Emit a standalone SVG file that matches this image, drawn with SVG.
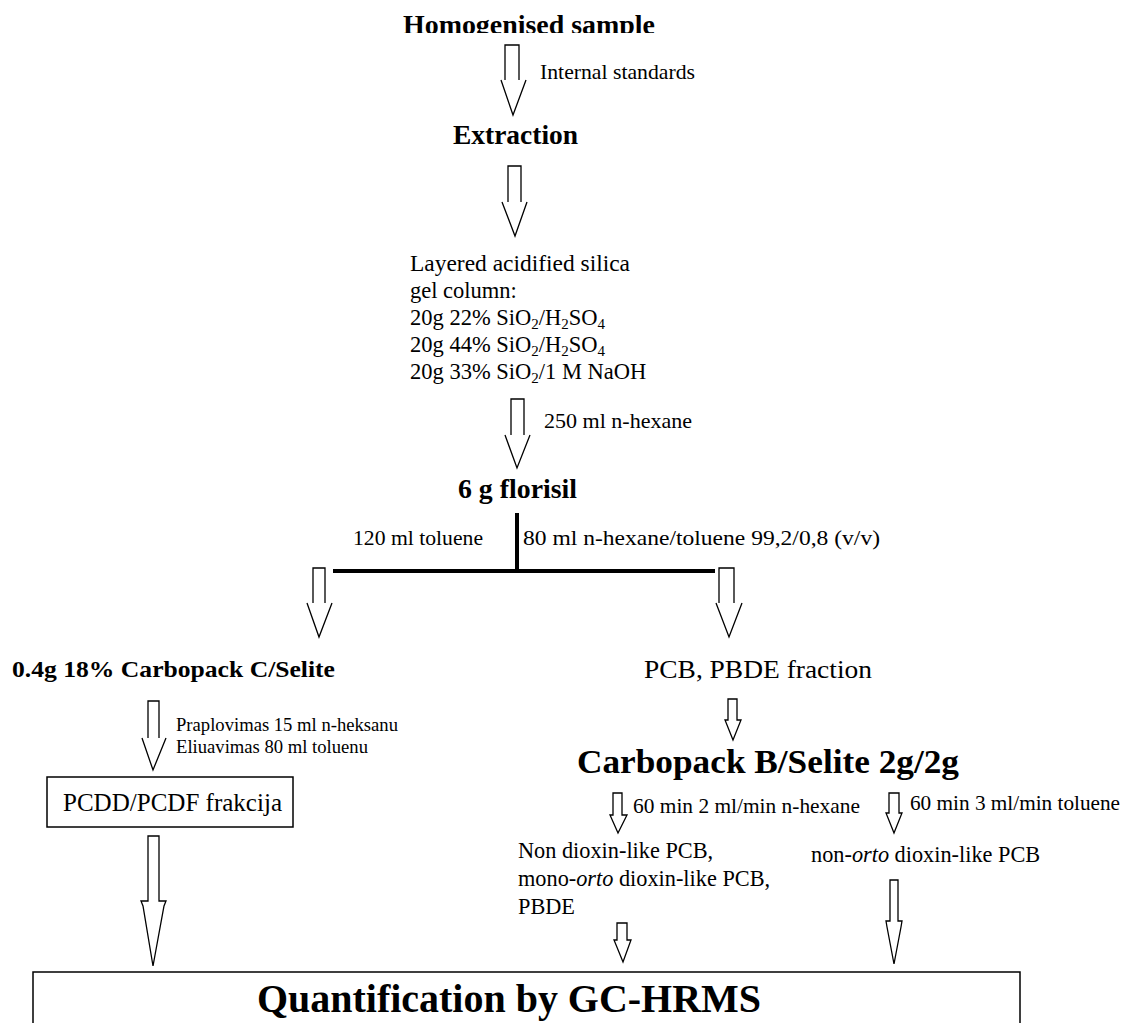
<svg xmlns="http://www.w3.org/2000/svg" width="1123" height="1023" viewBox="0 0 1123 1023">
<defs>
<style>
.t{font-family:"Liberation Serif","Times New Roman",serif;fill:#000}
.b{font-weight:bold}
.sub{font-size:15px}
.ar{fill:none;stroke:#000;stroke-width:1.3}
.arf{fill:#fff;stroke:#000;stroke-width:1.3;stroke-linejoin:miter}
.box{fill:#fff;stroke:#000;stroke-width:1.5}
.bar{stroke:#000;stroke-width:4;fill:none}
</style>
<clipPath id="topclip"><rect x="0" y="0" width="1123" height="33"/></clipPath>
</defs>
<rect width="1123" height="1023" fill="#fff"/>

<g id="connectors">
<path class="ar" d="M505,80 V45 H519 V80 M501,80 L513,115 L526,80"/>
<path class="ar" d="M508,202 V166 H521 V202 M502,202 L515,236 L527,202"/>
<path class="ar" d="M511,435 V399 H524 V435 M505,435 L517,468 L530,435"/>
<path class="bar" d="M517,513 V571 M333,571 H715"/>
<path class="ar" d="M313,603 V568 H325 V603 M307,603 L319,637 L332,603"/>
<path class="ar" d="M719,603 V568 H734 V603 M716,603 L729,637 L742,603"/>
<path class="ar" d="M148,738 V701 H159 V738 M142,738 L153,770 L166,738"/>
<polygon class="arf" points="728,699 737,699 737,720 741,720 733,740 725,720 728,720"/>
<polygon class="arf" points="613,793 622,793 622,815 627,815 618,833 610,815 613,815"/>
<polygon class="arf" points="889,793 899,793 899,813 902,813 894,833 886,813 889,813"/>
<polygon class="arf" points="617,923 627,923 627,940 631,940 623,962 614,940 617,940"/>
<polygon class="arf" points="148,836 159,836 159,901 166,901 164,906 153,966 143,906 141,901 148,901"/>
<polygon class="arf" points="890,880 898,880 898,921 902,921 901,927 894,964 887,927 886,921 890,921"/>
</g>

<g id="homogenised" clip-path="url(#topclip)">
<text class="t b" x="403" y="34" font-size="27" textLength="252" lengthAdjust="spacingAndGlyphs">Homogenised sample</text>
</g>
<g id="internal-standards">
<text class="t" x="540" y="79" font-size="21.5" textLength="155" lengthAdjust="spacingAndGlyphs">Internal standards</text>
</g>
<g id="extraction">
<text class="t b" x="453" y="144" font-size="27" textLength="125" lengthAdjust="spacingAndGlyphs">Extraction</text>
</g>
<g id="silica-column" class="t" font-size="22.5">
<text x="410" y="271" textLength="220" lengthAdjust="spacingAndGlyphs">Layered acidified silica</text>
<text x="410" y="298">gel column:</text>
<text x="410" y="325">20g 22% SiO<tspan class="sub" dy="4">2</tspan><tspan dy="-4">/H</tspan><tspan class="sub" dy="4">2</tspan><tspan dy="-4">SO</tspan><tspan class="sub" dy="4">4</tspan></text>
<text x="410" y="352">20g 44% SiO<tspan class="sub" dy="4">2</tspan><tspan dy="-4">/H</tspan><tspan class="sub" dy="4">2</tspan><tspan dy="-4">SO</tspan><tspan class="sub" dy="4">4</tspan></text>
<text x="410" y="379">20g 33% SiO<tspan class="sub" dy="4">2</tspan><tspan dy="-4">/1 M NaOH</tspan></text>
</g>
<g id="hexane-label">
<text class="t" x="544" y="428" font-size="21.5" textLength="148" lengthAdjust="spacingAndGlyphs">250 ml n-hexane</text>
</g>
<g id="florisil">
<text class="t b" x="458" y="498" font-size="27" textLength="119" lengthAdjust="spacingAndGlyphs">6 g florisil</text>
</g>
<g id="split-labels" class="t" font-size="21.5">
<text x="353" y="545" textLength="130" lengthAdjust="spacingAndGlyphs">120 ml toluene</text>
<text x="523" y="545" textLength="357" lengthAdjust="spacingAndGlyphs">80 ml n-hexane/toluene 99,2/0,8 (v/v)</text>
</g>
<g id="carbopack-c">
<text class="t b" x="12" y="677" font-size="23" textLength="323" lengthAdjust="spacingAndGlyphs">0.4g 18%  Carbopack C/Selite</text>
</g>
<g id="pcb-fraction">
<text class="t" x="644" y="678" font-size="25" textLength="228" lengthAdjust="spacingAndGlyphs">PCB, PBDE fraction</text>
</g>
<g id="carbopack-c-elution" class="t" font-size="18.5">
<text x="176" y="731" textLength="222" lengthAdjust="spacingAndGlyphs">Praplovimas 15 ml n-heksanu</text>
<text x="176" y="753" textLength="192" lengthAdjust="spacingAndGlyphs">Eliuavimas 80 ml toluenu</text>
</g>
<g id="pcdd-box">
<rect class="box" x="47" y="777" width="246" height="50"/>
<text class="t" x="63" y="811" font-size="24.5" textLength="219" lengthAdjust="spacingAndGlyphs">PCDD/PCDF frakcija</text>
</g>
<g id="carbopack-b">
<text class="t b" x="577" y="773" font-size="34" textLength="382" lengthAdjust="spacingAndGlyphs">Carbopack B/Selite 2g/2g</text>
</g>
<g id="elution-labels" class="t" font-size="21">
<text x="633" y="813" textLength="227" lengthAdjust="spacingAndGlyphs">60 min 2 ml/min n-hexane</text>
<text x="910" y="810" textLength="210" lengthAdjust="spacingAndGlyphs">60 min 3 ml/min toluene</text>
</g>
<g id="non-dioxin" class="t" font-size="22.3">
<text x="518" y="858">Non dioxin-like PCB,</text>
<text x="518" y="886">mono-<tspan font-style="italic">orto</tspan> dioxin-like PCB,</text>
<text x="518" y="914">PBDE</text>
</g>
<g id="non-orto">
<text class="t" x="811" y="862" font-size="22.3">non-<tspan font-style="italic">orto</tspan> dioxin-like PCB</text>
</g>
<g id="quantification">
<rect class="box" x="33" y="972" width="987" height="80"/>
<text class="t b" x="257" y="1012" font-size="40" textLength="504" lengthAdjust="spacingAndGlyphs">Quantification by GC-HRMS</text>
</g>
</svg>
